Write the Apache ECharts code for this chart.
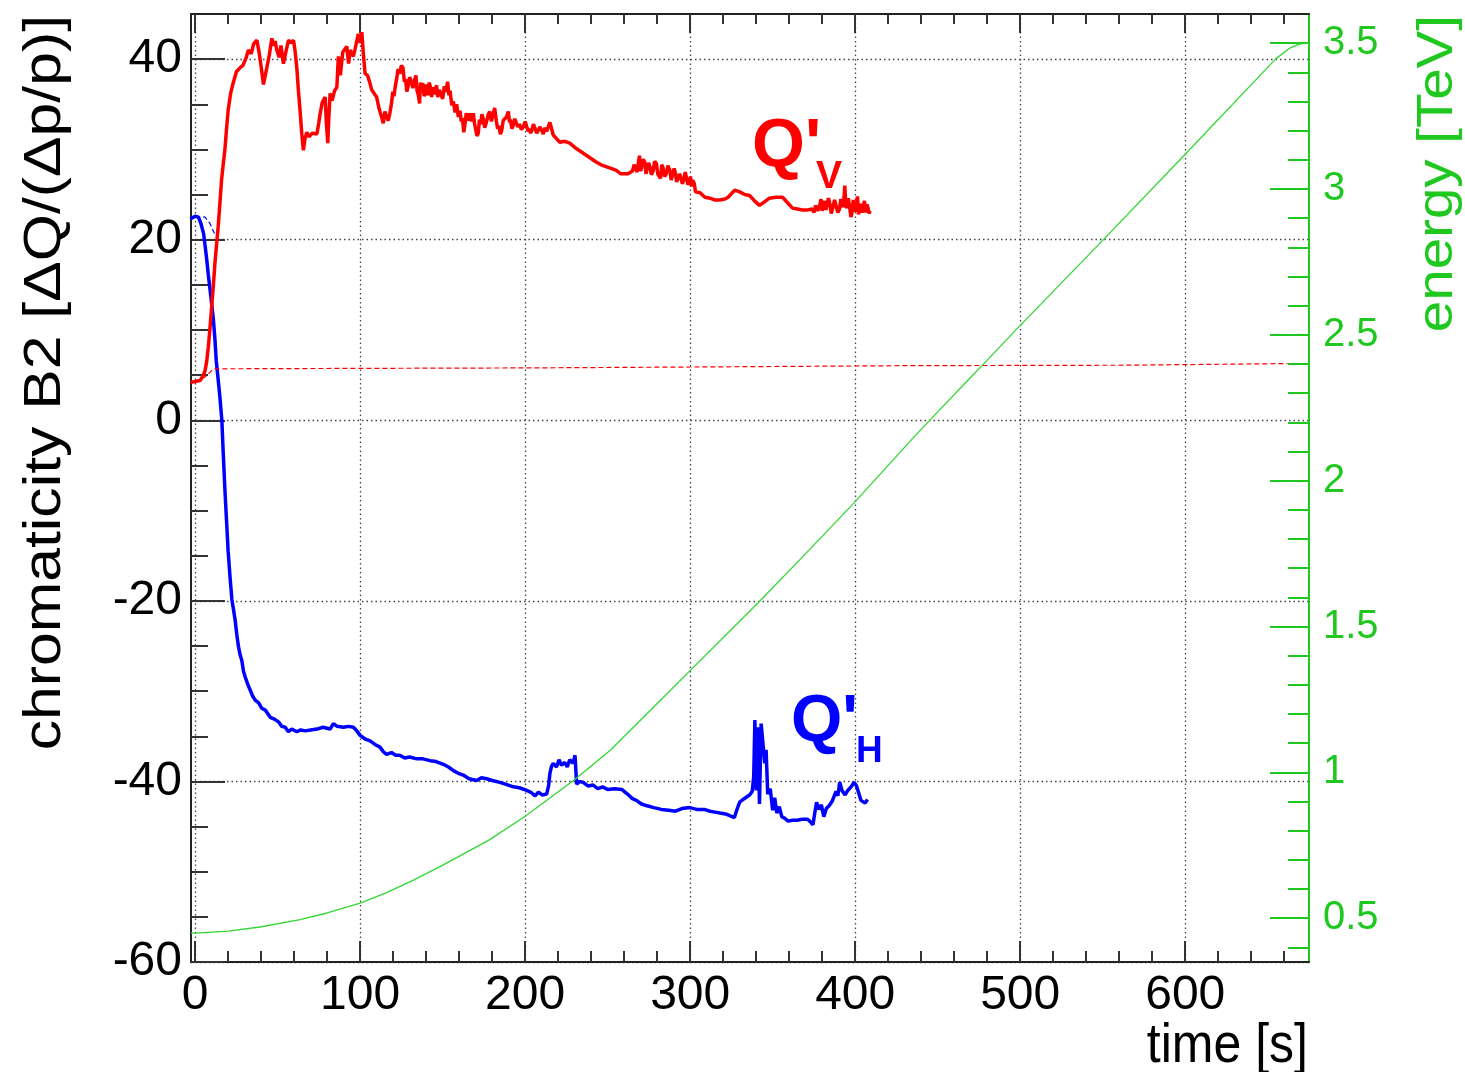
<!DOCTYPE html>
<html>
<head>
<meta charset="utf-8">
<script src="https://cdn.jsdelivr.net/npm/echarts@6/dist/echarts.min.js"></script>
<style>
  html, body { margin: 0; padding: 0; background: #fff; }
  #chart { width: 1465px; height: 1072px; }
</style>
</head>
<body>
<div id="chart"></div>
<script>
// tick values (time axis, chromaticity axis, energy axis)
const timeMajor = [0, 100, 200, 300, 400, 500, 600]
const timeMinor = [20, 40, 60, 80, 120, 140, 160, 180, 220, 240, 260, 280, 320, 340, 360, 380,
  420, 440, 460, 480, 520, 540, 560, 580, 620, 640, 660]
const chromaMajor = [-60, -40, -20, 0, 20, 40]
const chromaMinor = [-55, -50, -45, -35, -30, -25, -15, -10, -5, 5, 10, 15, 25, 30, 35]
const energyMajor = [0.5, 1, 1.5, 2, 2.5, 3, 3.5]
const energyMinor = [0.4, 0.6, 0.7, 0.8, 0.9, 1.1, 1.2, 1.3, 1.4, 1.6, 1.7, 1.8, 1.9, 2.1, 2.2,
  2.3, 2.4, 2.6, 2.7, 2.8, 2.9, 3.1, 3.2, 3.3, 3.4]

// Q'V (red), [time s, chromaticity]
const qvPoints = [
  [-2.9, 4.2], [0, 4.3], [3, 4.4], [5, 5.0], [6, 5.5], [7, 6.5], [8, 8.1], [9, 10.2], [10, 12.5],
  [11, 14.8], [12, 17.4], [13, 19.5], [14, 21.5], [15, 24], [16, 26.6], [17, 28.3], [18, 29.9],
  [19, 32.2], [20, 34.3], [21.5, 36.2], [23, 37.3], [25, 38.6], [27, 39], [29, 39.3], [31, 40.2],
  [32.3, 41], [34, 40.6], [35.5, 41.7], [37.4, 42.1], [39, 40.5], [40.5, 38.5], [41.4, 37.2],
  [42.5, 38.2], [43.5, 39.1], [45, 40.5], [46.5, 42.3], [47.5, 41.5], [48.5, 42.0], [49.5, 41],
  [51, 40.2], [52, 41.5], [53.5, 39.5], [55, 40.8], [56.6, 42.1], [58, 41.8], [59.6, 42.1],
  [60.5, 41], [61.6, 39.1], [62.6, 36.5], [63.6, 34.3], [64.6, 31.8], [65.6, 29.9], [66.6, 31.2],
  [67.7, 31.9], [69, 31.4], [71, 31.8], [73.8, 31.7], [75, 33], [75.8, 34], [77, 35.2], [78.8, 35.8],
  [79.5, 33], [80.4, 30.7], [81, 33.5], [81.8, 36.2], [83, 35.4], [84.5, 36.5], [85.9, 36.9],
  [86.8, 40.3], [88, 38.2], [89.5, 40.8], [91.9, 41.4], [93, 39.5], [94, 41], [95.9, 40.3],
  [97, 41.2], [98.9, 42.8], [100, 41.8], [101, 43], [102, 40.5], [103, 38.4], [104.5, 38.2],
  [106, 37.3], [107, 36.6], [108.5, 36.2], [110, 35.8], [111.5, 34.5], [113, 33.6], [114, 32.9],
  [115, 34.2], [116, 34.3], [117, 33.2], [118, 34.0], [119, 35.1], [119.8, 36.4], [120.5, 35.9],
  [121.3, 37.0], [122, 37.7], [123, 38.9], [124, 38.4], [125, 39.3], [126, 39], [126.8, 37.5],
  [127.5, 37.8], [128.3, 36.4], [129, 36.9], [130, 38.0], [131, 37.5], [132, 36.8], [133, 37.7],
  [133.8, 38.2], [134.5, 36.5], [135.3, 36.0], [136, 35.1], [136.6, 37.4], [137, 37.0], [138, 37.3],
  [138.8, 35.9], [139.5, 36.2], [140.3, 37.2], [141, 36], [141.8, 37.4], [142.5, 37.0], [143.3, 35.8],
  [144, 36.9], [144.8, 36.1], [145.5, 36.0], [146.3, 37.1], [147, 35.8], [148, 36.6], [149, 36.7],
  [150, 35.6], [151, 37.0], [152, 36.4], [153, 37.5], [153.8, 36.0], [154.5, 36.5], [155.5, 34.9],
  [156.5, 35.3], [157.5, 34.1], [158.5, 35.0], [159.5, 33.6], [160.5, 34.3], [161.3, 33.1],
  [162, 33.5], [162.8, 31.9], [163.6, 32.9], [164.3, 34.0], [165, 34.2], [165.8, 33.2], [166.5, 34.0],
  [167.5, 33.1], [168.6, 34], [169.3, 32.9], [170, 33.0], [170.8, 31.5], [171.6, 31.8], [172.3, 33.3],
  [173, 32.8], [173.8, 33.9], [174.6, 33.4], [175.5, 32.4], [176.5, 33.0], [177.5, 33.8], [178.5, 34.2],
  [179.5, 33.1], [180.7, 34], [181.5, 34.6], [182.5, 33.2], [183.3, 32.3], [184, 32.6], [185, 31.7],
  [185.8, 32.1], [186.7, 33.2], [187.5, 33.1], [188.7, 33.6], [189.8, 34.2], [190.5, 33.0], [191, 33.3],
  [192, 32.3], [192.8, 32.7], [193.7, 33.4], [194.5, 33.0], [195.5, 32.5], [196.5, 32.8], [197.7, 32.2],
  [198.9, 32.5], [200, 33.1], [201, 32.9], [201.8, 32.0], [202.5, 32.3], [203.3, 31.8], [204, 32.1],
  [205, 32.8], [206, 32.6], [207, 31.8], [208, 32.0], [209, 32.5], [210, 32.1], [211, 31.7],
  [212, 32.4], [213, 32.0], [214, 32.5], [215, 33.0], [217, 31.6], [219, 31.2], [221, 30.8],
  [224, 30.9], [227, 30.7], [231, 30.1], [235, 29.6], [239, 29.1], [243, 28.6], [246, 28.3],
  [249, 28.1], [252, 27.9], [255, 27.7], [258, 27.3], [262.4, 27.3], [265, 27.6], [266, 28.3],
  [267, 28.2], [267.8, 27.5], [268.5, 28.4], [269.3, 29.3], [270, 27.6], [270.5, 28.0], [271.5, 28.9],
  [272.5, 28.6], [273.2, 27.3], [274, 27.5], [274.8, 28.5], [275.6, 28.1], [276.5, 27.2], [277.5, 27.6],
  [278.5, 28.7], [279.6, 28.4], [280.3, 27.3], [281, 27.2], [282, 26.8], [282.8, 28.3], [283.5, 28.0],
  [284.5, 27.0], [285.5, 27.3], [286.5, 28.2], [287.7, 27.7], [288.5, 26.6], [289.5, 26.8], [290.3, 27.9],
  [291, 27.4], [291.8, 26.4], [292.7, 26.2], [293.6, 27.3], [294.5, 27.1], [295.3, 26.2], [296, 26.6],
  [297, 27.5], [297.8, 27.3], [298.6, 26.1], [299.5, 26.4], [300.2, 27.0], [300.8, 25.9], [301.6, 26.6],
  [302.5, 26.2], [303.2, 25.3], [303.9, 25.5], [306, 25.2], [308.9, 24.7], [312, 24.6], [315, 24.4],
  [318, 24.4], [321, 24.5], [323, 24.7], [325, 25.1], [327, 25.5], [330, 25.3], [333, 25.0],
  [336, 24.9], [339, 24.3], [342, 23.8], [345, 24.2], [348, 24.6], [352, 24.7], [356, 24.7],
  [359, 24.1], [362, 23.5], [365, 23.4], [368, 23.3], [371, 23.3], [374, 23.4], [375, 23.0],
  [376, 23.8], [377.3, 23.2], [378.5, 23.8], [379.3, 24.5], [380, 23.2], [380.8, 23.0], [381.5, 24.3],
  [382.3, 23.3], [383, 23.5], [383.8, 24.6], [384.6, 24.0], [385.5, 22.9], [386.5, 23.6], [387.5, 24.4],
  [388.7, 24.2], [389.5, 23.0], [390.5, 23.4], [391.3, 24.5], [392, 24.6], [392.8, 23.6], [393.7, 26.0],
  [394.3, 23.9], [395, 23.5], [395.8, 24.6], [396.7, 23.5], [397.4, 22.5], [398, 22.9], [398.8, 24.4],
  [399.5, 24.3], [400.2, 23.1], [400.8, 23.8], [401.4, 24.8], [402, 22.8], [402.8, 23.5], [403.5, 24.0],
  [404.2, 23.0], [404.8, 23.6], [405.6, 24.3], [406.5, 23.0], [407.2, 23.9], [407.8, 23.5],
  [408.4, 22.9], [409, 23.2]
]

// Q'H (blue)
const qhPoints = [
  [-2.9, 22.3], [0, 22.6], [2, 22.5], [3.5, 21.8], [5.1, 20.7], [6, 19.4], [7.1, 17.7], [8, 16.1],
  [9.1, 14.4], [10, 12.9], [11.1, 11.1], [12, 9.0], [12.8, 6.6], [13.8, 4.8], [14.8, 3], [15.5, 1.5],
  [16.2, 0], [17, -3.5], [18, -7.5], [19, -11], [20, -14.5], [21.3, -17.7], [22.3, -19.9],
  [23.3, -21], [24.3, -22.2], [25.3, -23.8], [26.3, -25.1], [27.3, -26], [28.3, -26.6], [29.3, -27.8],
  [30.3, -28.4], [31.8, -29.2], [33.4, -29.9], [35, -30.6], [36.4, -31], [38.5, -31.3], [40.4, -31.9],
  [42.5, -32.1], [45.5, -32.9], [48, -33.1], [50.5, -33.4], [52.5, -33.9], [54.6, -34], [56.5, -34.5],
  [58.5, -34.2], [61.6, -34.5], [64, -34.3], [66.7, -34.4], [70, -34.3], [73.8, -34.2], [77.5, -34.0],
  [81.8, -34.2], [83.8, -33.6], [86, -33.9], [89.9, -34], [93, -33.9], [95.9, -34], [98, -34.4],
  [100, -34.9], [103, -35.3], [106, -35.5], [109, -35.9], [112, -36.2], [114, -36.7], [116, -37],
  [119, -36.8], [121.5, -37.1], [124, -37.1], [127, -37.4], [130, -37.3], [134.3, -37.5], [138, -37.5],
  [142.4, -37.7], [146, -37.8], [150.4, -38.1], [153.5, -38.4], [156.5, -38.8], [159.5, -39.1],
  [162.5, -39.3], [166, -39.7], [170.6, -39.9], [173.5, -39.6], [176.7, -39.7], [180, -39.9],
  [184.7, -40.1], [188, -40.3], [192.8, -40.6], [196.5, -40.7], [200.9, -41], [203.5, -41.2],
  [206, -41.6], [208, -41.2], [210.5, -41.5], [213, -41.4], [214.2, -40.5], [215, -39.1], [216, -38.3],
  [217, -38], [219, -38.4], [220.5, -37.6], [222, -38.2], [224, -37.9], [225.5, -38.4], [227, -37.6],
  [229, -38.0], [230.2, -37.1], [231.2, -40.3], [233, -40.0], [235.2, -40.1], [238, -40.5],
  [241.2, -40.4], [244, -40.8], [247, -40.6], [250, -40.9], [254, -40.8], [258.7, -40.9], [262, -41.4],
  [265, -41.9], [267.4, -42.1], [270.5, -42.5], [273.8, -42.7], [278, -42.9], [282.5, -43.1],
  [287, -43.2], [291.1, -43.3], [295, -43.0], [299.8, -42.9], [304, -43.1], [308.5, -43.1],
  [312, -43.3], [315, -43.4], [318, -43.5], [321.4, -43.6], [324, -43.8], [326.8, -44], [328, -43.3],
  [330, -42.3], [332, -42.0], [334.4, -41.7], [336, -41.5], [337.6, -41.1], [338.5, -39.5],
  [339.2, -33.2], [340, -41], [341, -34], [342, -42.5], [343, -33.6], [344.2, -33.4], [345.2, -38],
  [346, -36.5], [347, -41.4], [348.5, -40.8], [350, -43.2], [351.2, -41.8], [352.5, -43.5],
  [354, -42.8], [355.5, -43.9], [357.5, -44.1], [359.3, -44.4], [362, -44.3], [364.7, -44.3],
  [368, -44.2], [371.2, -44.2], [373, -44.5], [374.4, -44.8], [375.5, -43.5], [376.6, -42.3],
  [378, -43.1], [379.5, -42.6], [381, -43.9], [382.5, -43.0], [384.2, -42.7], [386, -42.2],
  [388.4, -41.1], [389.5, -41.6], [390.6, -40.1], [392, -41.0], [393.9, -41.5], [395.5, -41.0],
  [397.5, -40.6], [399.3, -40.1], [400.8, -40.5], [402.5, -41.5], [403.5, -42.1], [404.7, -42.3],
  [406, -42.4], [407.5, -42.0]
]

// thin dashed reference lines near the start
const qvRefPoints = [[0, 4.2], [3, 4.5], [6, 4.8], [9, 5.3], [11, 5.7], [100, 5.75], [200, 5.8],
  [300, 5.9], [430, 6.05], [564, 6.1], [565, 6.28], [662, 6.28]]
const qhRefPoints = [[0, 22.6], [6, 22.5], [9, 21.8], [12.2, 20.5]]

// beam energy [TeV]
const energyPoints = [
  [-2.5, 0.449], [0, 0.449], [20, 0.456], [39.4, 0.47], [63.6, 0.495], [80, 0.518], [100, 0.552],
  [116, 0.588], [132, 0.63], [148.4, 0.677], [177.8, 0.767], [199.6, 0.848], [229.5, 0.973],
  [251.6, 1.076], [280, 1.236], [299.8, 1.348], [340.9, 1.58], [370, 1.75], [399.3, 1.924],
  [435, 2.146], [447, 2.218], [470.6, 2.358], [477.4, 2.398], [499.6, 2.53], [551, 2.83],
  [600, 3.119], [655, 3.447], [663, 3.482], [669, 3.497], [675, 3.5]
]

const FONT = '"Liberation Sans", Arial, Helvetica, sans-serif'
const GREEN = '#1ec81e'
const gridDots = { color: '#444', width: 1.3, type: [1.5, 3] }

function tickAxis(extra) {
  // axis used only to draw a set of ticks
  return Object.assign({
    type: 'value',
    axisLine: { show: false, onZero: false },
    axisLabel: { show: false },
    splitLine: { show: false }
  }, extra)
}

const chart = echarts.init(document.getElementById('chart'))
chart.setOption({
  animation: false,
  backgroundColor: '#fff',
  grid: { left: 191, top: 14, width: 1118, height: 948, outerBoundsMode: 'none' },
  xAxis: [
    {
      type: 'value', position: 'bottom', min: -2.5, max: 675,
      axisLine: { show: true, onZero: false, lineStyle: { color: '#222', width: 2 } },
      axisTick: { inside: true, length: 21, customValues: timeMajor, lineStyle: { color: '#333', width: 2 } },
      axisLabel: { customValues: timeMajor, fontSize: 48, margin: 10, color: '#000', fontFamily: FONT },
      splitLine: { show: true, lineStyle: gridDots }
    },
    tickAxis({ position: 'bottom', min: -2.5, max: 675,
      axisTick: { inside: true, length: 11, customValues: timeMinor, lineStyle: { color: '#333', width: 2 } } }),
    tickAxis({ position: 'top', min: -2.5, max: 675,
      axisLine: { show: true, onZero: false, lineStyle: { color: '#222', width: 2 } },
      axisTick: { inside: true, length: 19, customValues: timeMajor, lineStyle: { color: '#333', width: 2 } } }),
    tickAxis({ position: 'top', min: -2.5, max: 675,
      axisTick: { inside: true, length: 10, customValues: timeMinor, lineStyle: { color: '#333', width: 2 } } })
  ],
  yAxis: [
    {
      type: 'value', position: 'left', min: -60, max: 45,
      axisLine: { show: true, onZero: false, lineStyle: { color: '#222', width: 2 } },
      axisTick: { inside: true, length: 34, customValues: chromaMajor, lineStyle: { color: '#333', width: 2 } },
      axisLabel: { customValues: chromaMajor, fontSize: 48, margin: 9, color: '#000', fontFamily: FONT },
      splitLine: { show: true, lineStyle: gridDots }
    },
    tickAxis({ position: 'left', min: -60, max: 45,
      axisTick: { inside: true, length: 17, customValues: chromaMinor, lineStyle: { color: '#333', width: 2 } } }),
    {
      type: 'value', position: 'right', min: 0.35, max: 3.6,
      axisLine: { show: true, onZero: false, lineStyle: { color: GREEN, width: 2 } },
      axisTick: { inside: true, length: 39, customValues: energyMajor, lineStyle: { color: GREEN, width: 2 } },
      axisLabel: { customValues: energyMajor, fontSize: 40, margin: 14, color: GREEN, fontFamily: FONT },
      splitLine: { show: false }
    },
    tickAxis({ position: 'right', min: 0.35, max: 3.6,
      axisTick: { inside: true, length: 21, customValues: energyMinor, lineStyle: { color: GREEN, width: 2 } } })
  ],
  series: [
    {
      name: "Q'H", type: 'line', xAxisIndex: 0, yAxisIndex: 0, data: qhPoints,
      symbol: 'none', lineStyle: { color: '#0000ff', width: 3.5 }, z: 3
    },
    {
      name: "Q'V", type: 'line', xAxisIndex: 0, yAxisIndex: 0, data: qvPoints,
      symbol: 'none', lineStyle: { color: '#ff0000', width: 3.5 }, z: 4
    },
    {
      name: "Q'V ref", type: 'line', xAxisIndex: 0, yAxisIndex: 0, data: qvRefPoints,
      symbol: 'none', lineStyle: { color: '#ff0000', width: 1.2, type: [5, 3] }, z: 5
    },
    {
      name: "Q'H ref", type: 'line', xAxisIndex: 0, yAxisIndex: 0, data: qhRefPoints,
      symbol: 'none', lineStyle: { color: '#0000ff', width: 1.2, type: [5, 3] }, z: 5
    },
    {
      name: 'energy', type: 'line', xAxisIndex: 0, yAxisIndex: 2, data: energyPoints,
      symbol: 'none', lineStyle: { color: '#33d633', width: 1.3 }, z: 6
    }
  ],
  graphic: [
    // axis titles
    {
      type: 'text', x: 46, y: 15, rotation: Math.PI / 2, scaleX: 1.19,
      style: { text: 'chromaticity B2 [ΔQ/(Δp/p)]', font: '51px ' + FONT, fill: '#000', align: 'right', verticalAlign: 'middle' }
    },
    {
      type: 'text', x: 1438, y: 15, rotation: Math.PI / 2, scaleX: 1.13,
      style: { text: 'energy [TeV]', font: '50px ' + FONT, fill: GREEN, align: 'right', verticalAlign: 'middle' }
    },
    {
      type: 'text', x: 1308, y: 1074, scaleY: 1.1,
      style: { text: 'time [s]', font: '50px ' + FONT, fill: '#000', align: 'right', verticalAlign: 'bottom' }
    },
    // curve labels
    { type: 'text', x: 752, y: 113, style: { text: "Q'", font: 'bold 68px ' + FONT, fill: '#ff0000', verticalAlign: 'top' } },
    { type: 'text', x: 816, y: 158, style: { text: 'V', font: 'bold 39px ' + FONT, fill: '#ff0000', verticalAlign: 'top' } },
    { type: 'text', x: 791, y: 690, style: { text: "Q'", font: 'bold 66px ' + FONT, fill: '#0000ff', verticalAlign: 'top' } },
    { type: 'text', x: 856, y: 733, style: { text: 'H', font: 'bold 37px ' + FONT, fill: '#0000ff', verticalAlign: 'top' } }
  ]
})
</script>
</body>
</html>
